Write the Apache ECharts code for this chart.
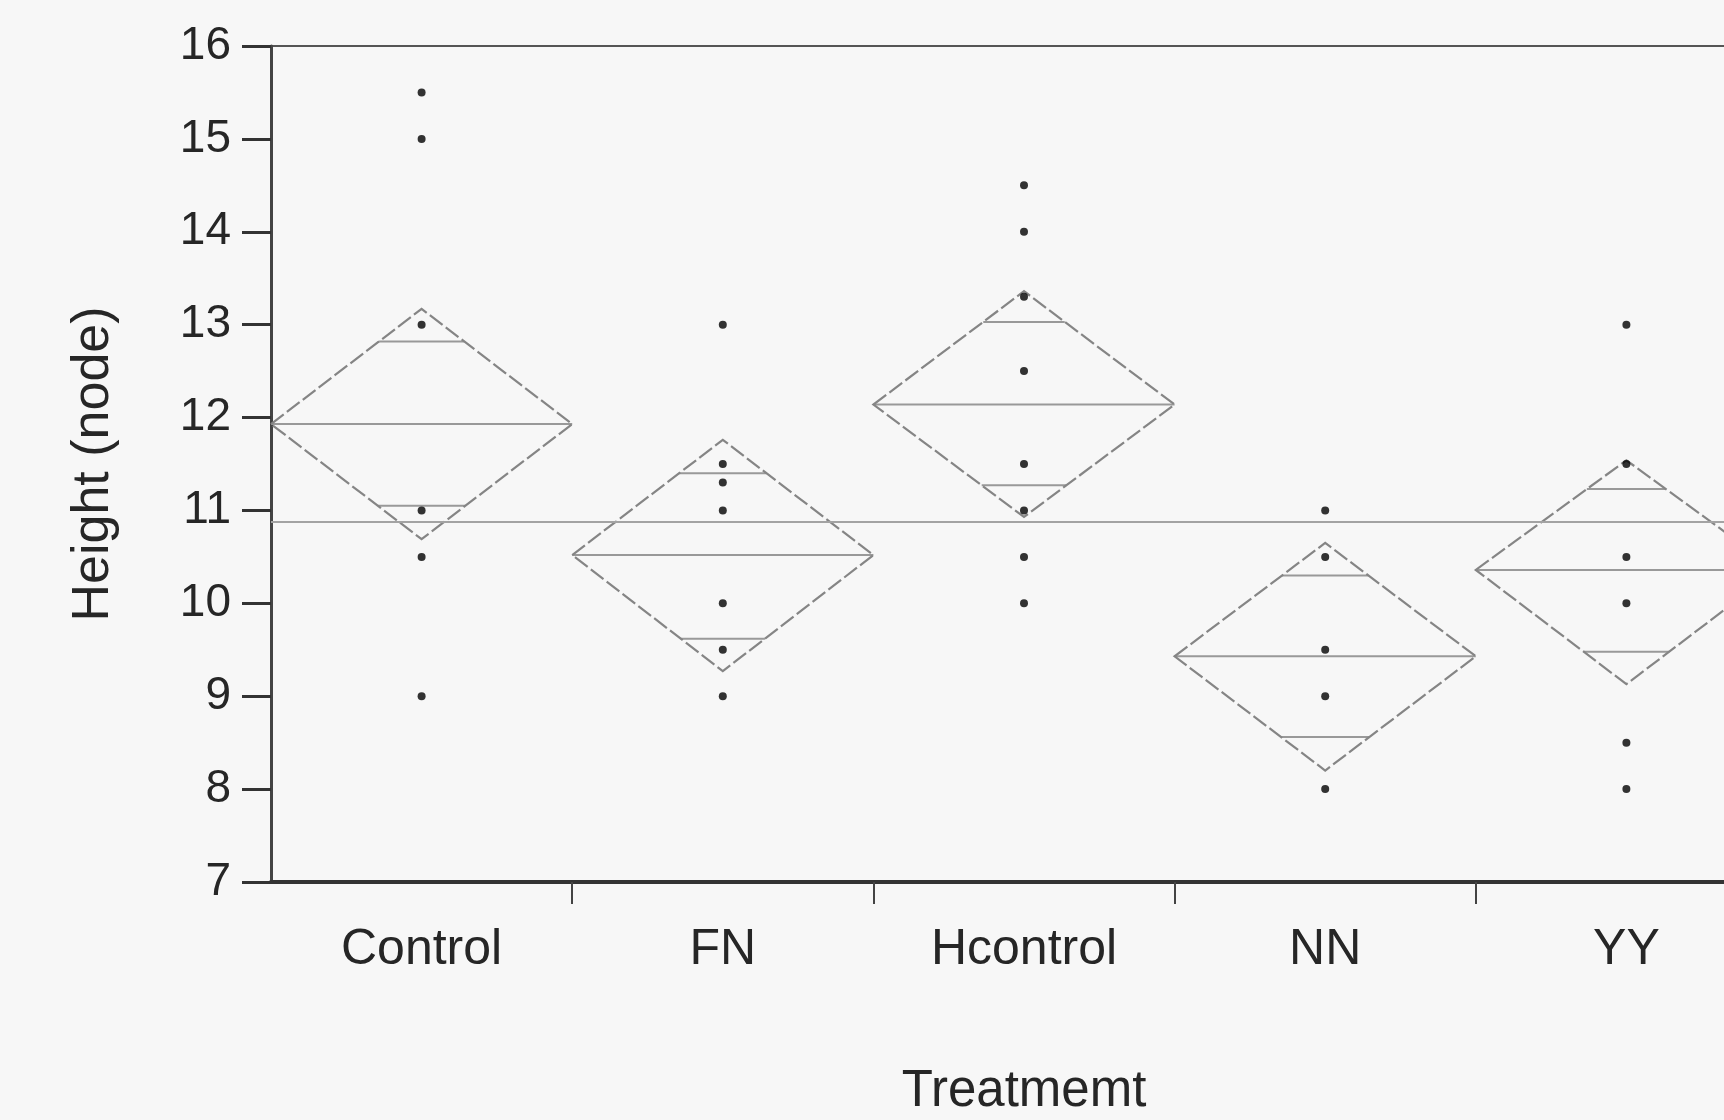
<!DOCTYPE html>
<html>
<head>
<meta charset="utf-8">
<script src="https://cdn.jsdelivr.net/npm/echarts@6/dist/echarts.min.js"></script>
<style>
  html, body { margin: 0; padding: 0; background: #f7f7f7; }
  #chart { width: 1724px; height: 1120px; }
</style>
</head>
<body>
<div id="chart"></div>
<script>
// ---- data ----
const categories = ['Control', 'FN', 'Hcontrol', 'NN', 'YY'];
const yTicks = [7, 8, 9, 10, 11, 12, 13, 14, 15, 16];

const groupMeans   = [11.93, 10.52, 12.14, 9.43, 10.36];
const ciLower      = [10.69, 9.27, 10.93, 8.20, 9.13];
const ciUpper      = [13.17, 11.76, 13.36, 10.65, 11.54];
const overlapLower = [11.05, 9.62, 11.27, 8.56, 9.48];
const overlapUpper = [12.82, 11.40, 13.03, 10.30, 11.23];
const grandMean = 10.88;

const obsControl  = [15.5, 15, 13, 11, 10.5, 9];
const obsFN       = [13, 11.5, 11.3, 11, 10, 9.5, 9];
const obsHcontrol = [14.5, 14, 13.3, 12.5, 11.5, 11, 10.5, 10];
const obsNN       = [11, 10.5, 9.5, 9, 8];
const obsYY       = [13, 11.5, 10.5, 10, 8.5, 8];

// ---- build series data ----
const obsByGroup = [obsControl, obsFN, obsHcontrol, obsNN, obsYY];
const pointData = [];
obsByGroup.forEach((arr, i) => arr.forEach(v => pointData.push([i, v])));

const diamondData = categories.map((c, i) =>
  [i, groupMeans[i], ciLower[i], ciUpper[i], overlapLower[i], overlapUpper[i]]);

const FONT = '"Liberation Sans", Arial, Helvetica, sans-serif';
const TEXT = '#262626';
const DIAMOND = '#858585';
const LINEG = '#999';

function renderDiamond(params, api) {
  const i = api.value(0);
  const c = api.coord([i, api.value(1)]);
  const w = api.size([1, 0])[0];
  const top = api.coord([i, api.value(3)])[1];
  const bot = api.coord([i, api.value(2)])[1];
  const ovL = api.coord([i, api.value(4)])[1];
  const ovU = api.coord([i, api.value(5)])[1];
  const left = c[0] - w / 2, right = c[0] + w / 2, cy = c[1];
  function halfAt(y) {
    const f = y < cy ? (cy - y) / (cy - top) : (y - cy) / (bot - cy);
    return (w / 2) * (1 - f);
  }
  const hu = halfAt(ovU), hl = halfAt(ovL);
  const solid = { stroke: LINEG, lineWidth: 2 };
  return {
    type: 'group',
    children: [
      { type: 'line', shape: { x1: left, y1: cy, x2: right, y2: cy }, style: solid },
      { type: 'line', shape: { x1: c[0] - hu, y1: ovU, x2: c[0] + hu, y2: ovU }, style: solid },
      { type: 'line', shape: { x1: c[0] - hl, y1: ovL, x2: c[0] + hl, y2: ovL }, style: solid },
      { type: 'polygon',
        shape: { points: [[left, cy], [c[0], top], [right, cy], [c[0], bot]] },
        style: { fill: null, stroke: DIAMOND, lineWidth: 2.2, lineDash: [16, 4] } }
    ]
  };
}

const chart = echarts.init(document.getElementById('chart'), null, { renderer: 'canvas' });
chart.setOption({
  animation: false,
  backgroundColor: '#f7f7f7',
  grid: {
    left: 271, top: 46, width: 1506, bottom: 238,
    outerBoundsMode: 'none',
    containLabel: false,
    show: true, borderColor: '#555', borderWidth: 2, backgroundColor: 'rgba(0,0,0,0)'
  },
  xAxis: {
    type: 'category',
    data: categories,
    boundaryGap: true,
    name: 'Treatmemt',
    nameLocation: 'middle',
    nameGap: 184,
    nameTextStyle: { fontFamily: FONT, fontSize: 51, color: TEXT },
    axisLine: { onZero: false, lineStyle: { color: '#333', width: 4 } },
    axisTick: { show: true, length: 22, interval: function (idx) { return idx !== 0; },
                lineStyle: { color: '#444', width: 2 } },
    axisLabel: { fontFamily: FONT, fontSize: 50, color: TEXT, margin: 43 },
    splitLine: { show: false }
  },
  yAxis: {
    type: 'value',
    min: yTicks[0], max: yTicks[yTicks.length - 1], interval: 1,
    name: 'Height (node)',
    nameLocation: 'middle',
    nameGap: 151,
    nameTextStyle: { fontFamily: FONT, fontSize: 52, color: TEXT },
    axisLine: { show: true, lineStyle: { color: '#444', width: 3 } },
    axisTick: { show: true, length: 29, lineStyle: { color: '#333', width: 3 } },
    axisLabel: { fontFamily: FONT, fontSize: 46, color: TEXT, margin: 40 },
    splitLine: { show: false }
  },
  series: [
    {
      type: 'custom',
      renderItem: renderDiamond,
      data: diamondData,
      clip: false,
      z: 2
    },
    {
      type: 'scatter',
      data: pointData,
      symbol: 'circle',
      symbolSize: 8,
      itemStyle: { color: '#000' },
      z: 3,
      markLine: {
        silent: true,
        symbol: 'none',
        label: { show: false },
        lineStyle: { color: '#a3a3a3', width: 2, type: 'solid' },
        data: [{ yAxis: grandMean }]
      }
    }
  ]
});
</script>
</body>
</html>
